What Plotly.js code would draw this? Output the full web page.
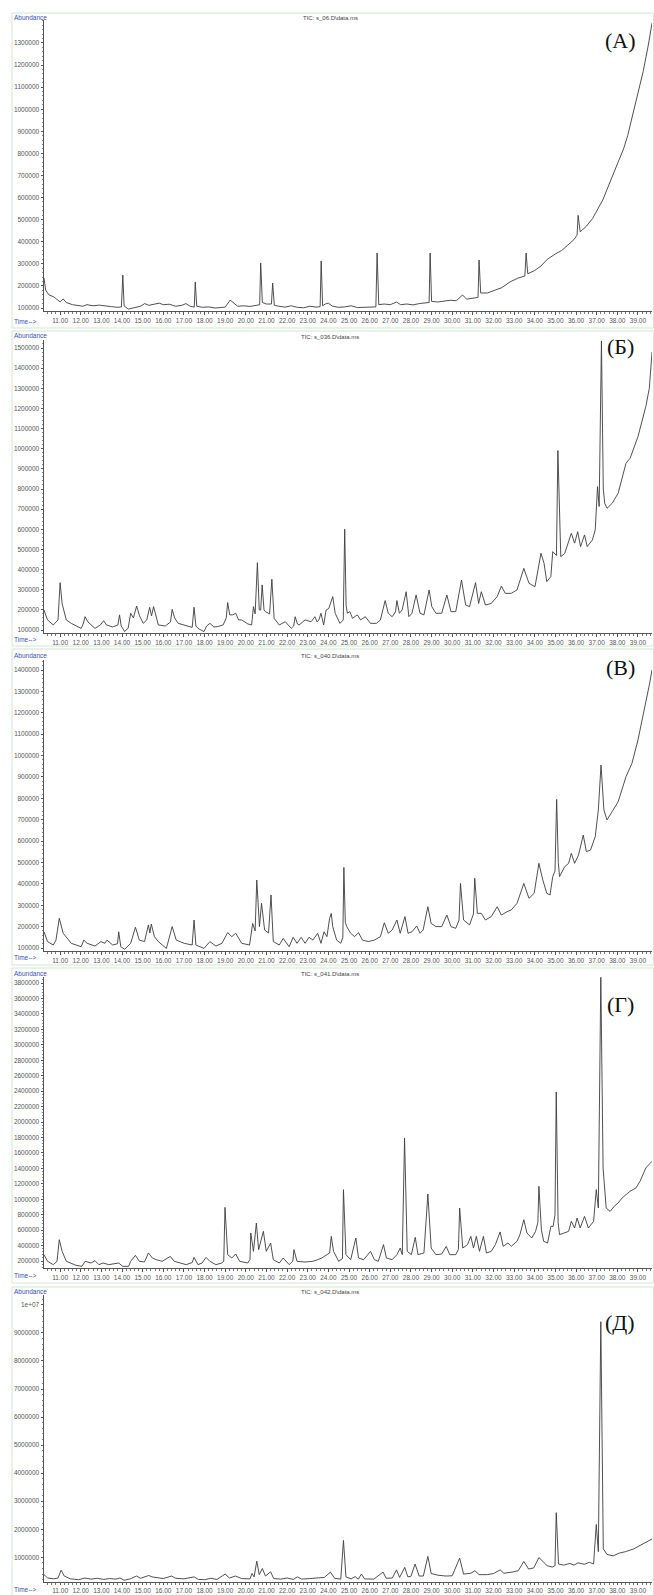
<!DOCTYPE html>
<html>
<head>
<meta charset="utf-8">
<script src="https://cdn.plot.ly/plotly-3.0.1.min.js"></script>
<style>
  html, body { margin: 0; padding: 0; background: #fff; }
  #chart { width: 654px; height: 1595px; }
</style>
</head>
<body>
<div id="chart"></div>
<script>
// ---------------- DATA (time in min, abundance) ----------------
const chromA = [[10.22,236000],[10.3,181000],[10.45,160000],[10.7,150000],[10.9,135000],[11.0,128000],[11.15,141000],[11.3,125000],[11.6,115000],[11.9,112000],[12.1,108000],[12.3,115000],[12.6,110000],[12.9,113000],[13.2,108000],[13.5,106000],[13.8,103000],[13.97,105000],[14.04,249000],[14.1,110000],[14.3,95000],[14.6,100000],[14.9,108000],[15.1,120000],[15.3,112000],[15.6,118000],[15.8,122000],[16.0,115000],[16.3,117000],[16.6,108000],[16.9,112000],[17.1,120000],[17.3,108000],[17.5,104000],[17.55,218000],[17.62,108000],[17.9,103000],[18.2,105000],[18.5,100000],[18.8,102000],[19.0,104000],[19.24,136000],[19.4,125000],[19.6,108000],[19.9,110000],[20.2,107000],[20.5,112000],[20.67,115000],[20.72,304000],[20.8,125000],[21.0,118000],[21.24,118000],[21.3,213000],[21.38,112000],[21.6,108000],[21.9,104000],[22.2,110000],[22.5,103000],[22.8,101000],[23.1,108000],[23.4,104000],[23.6,106000],[23.65,313000],[23.72,110000],[23.85,118000],[24.0,122000],[24.2,108000],[24.5,103000],[24.8,105000],[25.1,110000],[25.4,102000],[25.7,104000],[26.0,103000],[26.3,105000],[26.36,349000],[26.44,115000],[26.7,118000],[27.0,115000],[27.3,127000],[27.5,115000],[27.8,118000],[28.1,114000],[28.4,120000],[28.7,122000],[28.88,125000],[28.93,349000],[29.0,130000],[29.3,127000],[29.6,130000],[29.9,135000],[30.2,133000],[30.5,159000],[30.7,140000],[31.0,145000],[31.25,148000],[31.3,317000],[31.38,168000],[31.7,168000],[32.0,177000],[32.4,192000],[32.8,218000],[33.2,236000],[33.52,245000],[33.58,349000],[33.66,255000],[34.0,270000],[34.3,290000],[34.6,320000],[35.0,345000],[35.3,360000],[35.6,385000],[35.9,410000],[36.05,430000],[36.1,520000],[36.2,445000],[36.5,470000],[36.8,505000],[37.0,540000],[37.3,590000],[37.6,660000],[38.0,750000],[38.3,820000],[38.5,880000],[38.76,983000],[39.0,1070000],[39.25,1170000],[39.5,1290000],[39.68,1390000]];

const chromB = [[10.22,199000],[10.39,150000],[10.67,125000],[10.9,150000],[11.0,335000],[11.1,230000],[11.3,150000],[11.54,133000],[12.02,108000],[12.12,130000],[12.21,166000],[12.35,140000],[12.69,108000],[12.95,125000],[13.11,146000],[13.25,125000],[13.55,115000],[13.8,125000],[13.88,175000],[13.96,120000],[14.13,92000],[14.3,110000],[14.42,183000],[14.55,160000],[14.71,219000],[14.85,170000],[15.03,133000],[15.2,150000],[15.34,213000],[15.43,170000],[15.53,216000],[15.65,160000],[15.76,125000],[16.1,120000],[16.35,140000],[16.43,203000],[16.55,160000],[16.72,133000],[17.1,120000],[17.40,113000],[17.49,213000],[17.58,120000],[17.68,108000],[17.97,92000],[18.1,120000],[18.26,133000],[18.45,115000],[18.64,117000],[18.9,125000],[19.05,160000],[19.12,236000],[19.22,175000],[19.37,175000],[19.51,183000],[19.65,150000],[19.80,150000],[20.1,130000],[20.28,125000],[20.37,216000],[20.45,180000],[20.56,434000],[20.65,200000],[20.72,199000],[20.79,324000],[20.88,200000],[20.95,191000],[21.15,180000],[21.26,352000],[21.37,158000],[21.62,125000],[21.91,141000],[22.20,108000],[22.32,120000],[22.39,166000],[22.5,130000],[22.58,125000],[22.87,150000],[23.16,141000],[23.35,166000],[23.45,140000],[23.54,150000],[23.64,183000],[23.77,125000],[23.89,199000],[24.02,207000],[24.14,249000],[24.21,266000],[24.33,183000],[24.56,133000],[24.72,150000],[24.79,600000],[24.86,220000],[24.92,183000],[25.04,191000],[25.17,158000],[25.40,175000],[25.56,150000],[25.79,166000],[26.04,133000],[26.33,133000],[26.52,150000],[26.75,246000],[26.90,183000],[27.09,166000],[27.25,190000],[27.32,246000],[27.44,183000],[27.57,199000],[27.77,290000],[27.90,166000],[28.05,183000],[28.25,274000],[28.44,183000],[28.63,175000],[28.88,299000],[29.01,216000],[29.21,183000],[29.49,183000],[29.74,274000],[29.94,191000],[30.17,191000],[30.45,348000],[30.65,224000],[30.84,216000],[31.13,335000],[31.28,232000],[31.41,290000],[31.61,224000],[31.89,232000],[32.18,266000],[32.38,318000],[32.57,282000],[32.86,282000],[33.14,299000],[33.47,406000],[33.72,332000],[34.01,315000],[34.30,481000],[34.45,431000],[34.58,340000],[34.78,365000],[34.87,489000],[35.05,470000],[35.12,991000],[35.2,600000],[35.26,464000],[35.45,480000],[35.64,539000],[35.77,580000],[35.93,531000],[36.08,588000],[36.22,514000],[36.41,572000],[36.54,514000],[36.79,547000],[36.93,597000],[37.04,812000],[37.12,713000],[37.23,1535000],[37.32,800000],[37.39,729000],[37.50,704000],[37.75,729000],[38.04,779000],[38.42,928000],[38.62,953000],[39.00,1060000],[39.38,1209000],[39.55,1300000],[39.68,1480000]];

const chromC = [[10.22,176000],[10.39,130000],[10.67,114000],[10.8,137000],[10.96,239000],[11.15,169000],[11.54,122000],[12.02,106000],[12.15,137000],[12.31,122000],[12.69,109000],[12.98,130000],[13.17,122000],[13.27,137000],[13.55,114000],[13.78,120000],[13.84,176000],[13.94,106000],[14.13,94000],[14.42,122000],[14.65,197000],[14.84,137000],[15.09,130000],[15.28,208000],[15.35,170000],[15.42,212000],[15.57,153000],[15.76,130000],[16.15,98000],[16.43,200000],[16.63,137000],[17.01,122000],[17.40,114000],[17.49,231000],[17.58,114000],[17.97,98000],[18.26,130000],[18.55,109000],[18.84,122000],[19.12,172000],[19.32,153000],[19.51,169000],[19.80,122000],[20.18,114000],[20.33,215000],[20.45,180000],[20.53,418000],[20.66,200000],[20.76,309000],[20.91,184000],[21.1,170000],[21.22,348000],[21.33,130000],[21.62,114000],[21.81,145000],[22.10,106000],[22.29,150000],[22.48,122000],[22.68,150000],[22.87,122000],[23.06,150000],[23.25,137000],[23.48,169000],[23.64,122000],[23.79,176000],[23.93,153000],[24.06,239000],[24.14,262000],[24.21,200000],[24.40,137000],[24.60,122000],[24.7,150000],[24.75,477000],[24.82,220000],[24.89,200000],[25.08,169000],[25.27,153000],[25.46,172000],[25.65,137000],[25.94,130000],[26.23,137000],[26.52,153000],[26.71,218000],[26.90,169000],[27.09,184000],[27.32,231000],[27.48,169000],[27.71,247000],[27.86,169000],[28.05,176000],[28.28,203000],[28.44,169000],[28.59,184000],[28.82,293000],[28.98,215000],[29.21,200000],[29.49,200000],[29.74,254000],[29.94,200000],[30.17,192000],[30.33,230000],[30.40,402000],[30.55,231000],[30.84,208000],[31.03,260000],[31.09,426000],[31.22,262000],[31.41,262000],[31.61,231000],[31.89,247000],[32.18,293000],[32.38,254000],[32.66,270000],[32.86,278000],[33.14,309000],[33.47,402000],[33.72,332000],[33.97,356000],[34.20,496000],[34.39,418000],[34.58,356000],[34.74,348000],[34.87,434000],[34.98,460000],[35.06,795000],[35.14,500000],[35.20,434000],[35.45,480000],[35.64,496000],[35.77,543000],[35.93,496000],[36.12,535000],[36.35,628000],[36.50,551000],[36.70,558000],[36.93,621000],[37.08,745000],[37.21,956000],[37.35,745000],[37.50,699000],[37.75,738000],[38.04,784000],[38.42,901000],[38.71,964000],[39.00,1073000],[39.38,1244000],[39.55,1330000],[39.68,1400000]];

const chromD = [[10.22,282000],[10.39,196000],[10.67,153000],[10.85,196000],[10.96,476000],[11.1,325000],[11.3,196000],[11.77,144000],[12.06,131000],[12.21,196000],[12.5,174000],[12.69,204000],[12.88,153000],[13.08,174000],[13.36,153000],[13.55,164000],[13.84,174000],[14.03,131000],[14.32,131000],[14.42,196000],[14.65,273000],[14.84,196000],[15.09,187000],[15.28,304000],[15.47,239000],[15.66,217000],[15.95,196000],[16.34,260000],[16.53,196000],[16.82,174000],[17.11,153000],[17.40,180000],[17.49,247000],[17.68,153000],[17.88,174000],[18.07,247000],[18.26,196000],[18.55,153000],[18.84,174000],[18.93,200000],[18.99,895000],[19.12,282000],[19.32,239000],[19.51,291000],[19.70,196000],[20.09,174000],[20.2,220000],[20.24,563000],[20.37,325000],[20.51,692000],[20.62,347000],[20.85,584000],[20.99,325000],[21.2,433000],[21.33,217000],[21.62,174000],[21.81,239000],[22.10,153000],[22.28,200000],[22.33,347000],[22.48,196000],[22.87,187000],[23.25,196000],[23.48,217000],[23.68,239000],[23.93,282000],[24.06,304000],[24.14,519000],[24.25,325000],[24.50,196000],[24.68,230000],[24.73,1124000],[24.85,282000],[25.08,217000],[25.33,498000],[25.46,239000],[25.71,217000],[26.04,325000],[26.23,217000],[26.42,196000],[26.67,412000],[26.81,239000],[27.09,217000],[27.32,282000],[27.48,368000],[27.58,282000],[27.69,1793000],[27.82,325000],[28.02,282000],[28.21,506000],[28.34,282000],[28.63,304000],[28.82,1068000],[28.98,368000],[29.21,282000],[29.49,291000],[29.71,390000],[29.88,282000],[30.17,282000],[30.30,350000],[30.36,886000],[30.51,368000],[30.74,412000],[30.90,519000],[31.03,368000],[31.17,519000],[31.32,325000],[31.51,519000],[31.66,304000],[31.89,325000],[32.09,412000],[32.32,576000],[32.47,390000],[32.70,433000],[32.86,390000],[33.14,455000],[33.28,541000],[33.47,735000],[33.62,563000],[33.85,498000],[34.04,584000],[34.15,700000],[34.20,1167000],[34.32,606000],[34.43,455000],[34.62,433000],[34.78,649000],[34.89,649000],[34.98,800000],[35.04,2389000],[35.13,700000],[35.20,541000],[35.45,563000],[35.64,584000],[35.77,714000],[35.93,627000],[36.05,757000],[36.20,627000],[36.41,778000],[36.60,627000],[36.85,714000],[36.98,1124000],[37.08,886000],[37.2,3874000],[37.31,1404000],[37.46,886000],[37.65,843000],[37.85,908000],[38.04,951000],[38.23,1016000],[38.61,1102000],[38.90,1145000],[39.10,1232000],[39.38,1404000],[39.53,1448000],[39.68,1491000]];

const chromE = [[10.22,380000],[10.4,260000],[10.7,230000],[10.9,260000],[11.05,540000],[11.2,330000],[11.5,230000],[11.9,200000],[12.2,260000],[12.5,220000],[12.8,250000],[13.1,210000],[13.4,240000],[13.7,220000],[13.9,260000],[14.1,180000],[14.4,230000],[14.7,330000],[14.9,250000],[15.3,350000],[15.45,300000],[15.6,280000],[16.0,240000],[16.4,330000],[16.6,250000],[17.0,230000],[17.5,300000],[17.7,210000],[18.0,200000],[18.3,250000],[18.6,210000],[19.0,400000],[19.2,260000],[19.5,330000],[19.8,240000],[20.2,230000],[20.3,420000],[20.4,300000],[20.53,860000],[20.65,380000],[20.8,600000],[20.95,330000],[21.2,480000],[21.35,240000],[21.7,220000],[22.0,260000],[22.3,210000],[22.5,300000],[22.7,220000],[23.1,240000],[23.5,260000],[23.8,280000],[24.1,470000],[24.3,250000],[24.6,220000],[24.73,1600000],[24.85,300000],[25.1,230000],[25.3,310000],[25.45,220000],[25.6,400000],[25.75,230000],[26.2,220000],[26.65,470000],[26.8,250000],[27.1,260000],[27.3,550000],[27.45,280000],[27.7,640000],[27.85,300000],[28.0,320000],[28.2,760000],[28.4,330000],[28.6,330000],[28.82,1030000],[28.98,420000],[29.3,360000],[29.7,330000],[30.0,340000],[30.36,970000],[30.55,400000],[30.9,430000],[31.1,520000],[31.3,380000],[31.7,380000],[32.0,420000],[32.32,550000],[32.5,430000],[32.9,470000],[33.2,520000],[33.47,850000],[33.7,580000],[33.95,620000],[34.2,990000],[34.35,880000],[34.6,700000],[34.85,650000],[34.98,700000],[35.04,2590000],[35.15,760000],[35.4,720000],[35.7,780000],[35.9,720000],[36.1,800000],[36.4,750000],[36.65,820000],[36.85,760000],[36.98,2170000],[37.08,1200000],[37.2,9400000],[37.32,1300000],[37.5,1100000],[37.8,1050000],[38.1,1150000],[38.4,1200000],[38.8,1300000],[39.1,1420000],[39.4,1530000],[39.68,1650000]];

// tick values / labels
const xTickVals = [11,12,13,14,15,16,17,18,19,20,21,22,23,24,25,26,27,28,29,30,31,32,33,34,35,36,37,38,39];
const xTickText = ["11.00","12.00","13.00","14.00","15.00","16.00","17.00","18.00","19.00","20.00","21.00","22.00","23.00","24.00","25.00","26.00","27.00","28.00","29.00","30.00","31.00","32.00","33.00","34.00","35.00","36.00","37.00","38.00","39.00"];
const yTicksA = [100000,200000,300000,400000,500000,600000,700000,800000,900000,1000000,1100000,1200000,1300000];
const yTicksB = [100000,200000,300000,400000,500000,600000,700000,800000,900000,1000000,1100000,1200000,1300000,1400000,1500000];
const yTicksC = [100000,200000,300000,400000,500000,600000,700000,800000,900000,1000000,1100000,1200000,1300000,1400000];
const yTicksD = [200000,400000,600000,800000,1000000,1200000,1400000,1600000,1800000,2000000,2200000,2400000,2600000,2800000,3000000,3200000,3400000,3600000,3800000];
const yTicksE = [1000000,2000000,3000000,4000000,5000000,6000000,7000000,8000000,9000000,10000000];
const yTextE  = ["1000000","2000000","3000000","4000000","5000000","6000000","7000000","8000000","9000000","1e+07"];
const fileNames = ["TIC: s_06.D\\data.ms","TIC: s_036.D\\data.ms","TIC: s_040.D\\data.ms","TIC: s_041.D\\data.ms","TIC: s_042.D\\data.ms"];
const panelLabels = ["(A)","(Б)","(В)","(Г)","(Д)"];

// ---------------- LAYOUT (pixel geometry) ----------------
const W = 654, H = 1595;
const py = p => 1 - p / H;
const px = p => p / W;

const panels = [
  {data: chromA, ticks: yTicksA, text: yTicksA.map(String), minor: 20000, top: 20,  bottom: 311,  range: [86400, 1404000],  fTop: 13,   fBot: 328,  abY: 18,   timeY: 321,  titleY: 18,   labY: 40},
  {data: chromB, ticks: yTicksB, text: yTicksB.map(String), minor: 20000, top: 340, bottom: 633,  range: [85100, 1539700],  fTop: 331,  fBot: 646,  abY: 336,  timeY: 639,  titleY: 337,  labY: 347},
  {data: chromC, ticks: yTicksC, text: yTicksC.map(String), minor: 20000, top: 660, bottom: 951,  range: [86000, 1446800],  fTop: 649,  fBot: 965,  abY: 655,  timeY: 958,  titleY: 656,  labY: 667},
  {data: chromD, ticks: yTicksD, text: yTicksD.map(String), minor: 40000, top: 977, bottom: 1268, range: [109350, 3877700], fTop: 968,  fBot: 1283, abY: 973,  timeY: 1275, titleY: 974,  labY: 1005},
  {data: chromE, ticks: yTicksE, text: yTextE,              minor: 200000,top: 1295,bottom: 1582, range: [117600, 10353000],fTop: 1287, fBot: 1600, abY: 1291, timeY: 1589, titleY: 1292, labY: 1322}
];

const traces = [], shapes = [], annotations = [];
const layout = {
  width: W, height: H, margin: {l: 0, r: 0, t: 0, b: 0},
  paper_bgcolor: '#ffffff', plot_bgcolor: '#ffffff', showlegend: false,
  font: {family: 'Liberation Sans, Arial, sans-serif', size: 7, color: '#555'}
};

const tickFont = {family: 'Liberation Sans, Arial, sans-serif', size: 6.5, color: '#555'};
const blue = '#3a4fb5';

panels.forEach((p, i) => {
  const n = i + 1;
  const xa = 'xaxis' + (n === 1 ? '' : n), ya = 'yaxis' + (n === 1 ? '' : n);
  const xr = 'x' + (n === 1 ? '' : n), yr = 'y' + (n === 1 ? '' : n);
  const last = (i === panels.length - 1);
  traces.push({
    type: 'scatter', mode: 'lines',
    x: p.data.map(d => d[0]), y: p.data.map(d => d[1]),
    xaxis: xr, yaxis: yr,
    line: {color: '#3c3c3c', width: 0.9},
    hoverinfo: 'skip'
  });
  layout[xa] = {
    domain: [px(44), px(652)], range: [10.22, 39.68], anchor: yr,
    showline: true, linecolor: '#555', linewidth: 1, mirror: false,
    ticks: 'outside', ticklen: last ? 2 : 3, tickcolor: '#555', tickwidth: 1,
    tickmode: 'array', tickvals: xTickVals, ticktext: xTickText,
    tickfont: tickFont, showgrid: false, zeroline: false, fixedrange: true,
    minor: {dtick: 0.2, tick0: 10, ticks: 'outside', ticklen: 1.5, tickcolor: '#777', showgrid: false}
  };
  layout[ya] = {
    domain: [py(p.bottom), py(p.top)], range: p.range, anchor: xr,
    showline: true, linecolor: '#555', linewidth: 1,
    ticks: 'outside', ticklen: 2.5, tickcolor: '#555', tickwidth: 1,
    tickmode: 'array', tickvals: p.ticks, ticktext: p.text,
    tickfont: tickFont, showgrid: false, zeroline: false, fixedrange: true,
    minor: {dtick: p.minor, tick0: 0, ticks: 'outside', ticklen: 1.2, tickcolor: '#888', showgrid: false}
  };
  shapes.push({type: 'rect', xref: 'paper', yref: 'paper',
    x0: px(12), x1: px(653.5), y0: py(p.fBot), y1: py(p.fTop),
    line: {color: '#cfe7cf', width: 1}, fillcolor: 'rgba(0,0,0,0)', layer: 'below'});
  annotations.push({xref: 'paper', yref: 'paper', x: px(12), y: py(p.abY), xanchor: 'left', yanchor: 'middle',
    text: 'Abundance', showarrow: false, font: {family: 'Liberation Sans, Arial, sans-serif', size: 6.5, color: blue}});
  annotations.push({xref: 'paper', yref: 'paper', x: px(12), y: py(p.timeY), xanchor: 'left', yanchor: 'middle',
    text: 'Time-->', showarrow: false, font: {family: 'Liberation Sans, Arial, sans-serif', size: 6.5, color: blue}});
  annotations.push({xref: 'paper', yref: 'paper', x: px(330), y: py(p.titleY), xanchor: 'center', yanchor: 'middle',
    text: fileNames[i], showarrow: false, font: {family: 'Liberation Sans, Arial, sans-serif', size: 6, color: '#444'}});
  annotations.push({xref: 'paper', yref: 'paper', x: px(620), y: py(p.labY), xanchor: 'center', yanchor: 'middle',
    text: panelLabels[i], showarrow: false, font: {family: 'Liberation Serif, Times New Roman, serif', size: 22, color: '#111'}});
});

layout.shapes = shapes;
layout.annotations = annotations;

Plotly.newPlot('chart', traces, layout, {staticPlot: true, displayModeBar: false});
</script>
</body>
</html>
